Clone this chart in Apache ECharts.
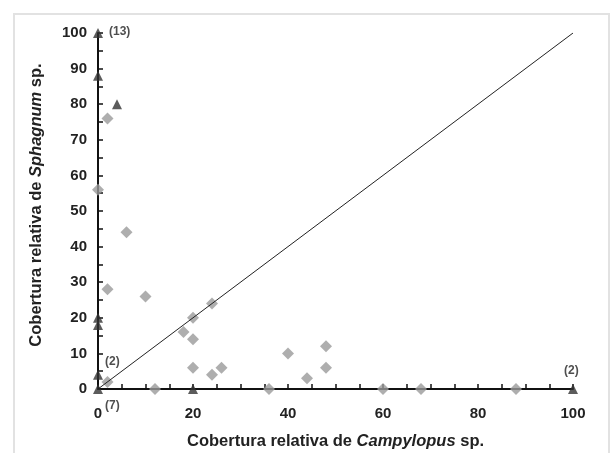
<!DOCTYPE html>
<html>
<head>
<meta charset="utf-8">
<script src="https://cdn.jsdelivr.net/npm/echarts@6/dist/echarts.min.js"></script>
<style>
  html, body { margin: 0; padding: 0; background: #fff; }
  #chart { width: 616px; height: 453px; }
</style>
</head>
<body>
<div id="chart"></div>
<script>
// triangles (dark) and diamonds (grey), [campylopus, sphagnum]
var triangles = [[0, 100], [0, 88], [4, 80], [0, 20], [0, 18], [0, 4], [0, 0], [20, 0], [100, 0]];
var diamonds = [[0, 56], [2, 76], [6, 44], [2, 28], [10, 26], [2, 2], [12, 0], [18, 16], [20, 20],
    [20, 14], [20, 6], [24, 24], [24, 4], [26, 6], [36, 0], [40, 10], [44, 3], [48, 12], [48, 6],
    [60, 0], [68, 0], [88, 0]];
var diagonal = [[0, 0], [100, 100]];
// counts of overlapping points
var notes = [[0, 100, '(13)'], [0, 4, '(2)'], [0, 0, '(7)'], [100, 0, '(2)']];
var noteOffset = [[11, -7], [7, -19], [7, 11], [-9, -24]];

var chart = echarts.init(document.querySelector('#chart'), null, { renderer: 'canvas' });
var font = 'Liberation Sans, Arial, sans-serif';

var nameRich = {
    n: { fontFamily: font, fontWeight: 'bold', fontSize: 16.5, color: '#222' },
    i: { fontFamily: font, fontWeight: 'bold', fontStyle: 'italic', fontSize: 16.5, color: '#222' }
};

var option = {
    animation: false,
    graphic: [{
        type: 'rect',
        shape: { x: 14, y: 14, width: 595, height: 460 },
        style: { fill: 'none', stroke: '#e2e2e2', lineWidth: 2 }
    }],
    grid: { left: 98, right: 43, top: 33, bottom: 64, outerBoundsMode: 'none' },
    xAxis: {
        type: 'value', min: 0, max: 100, interval: 20,
        name: '{n|Cobertura relativa de }{i|Campylopus}{n| sp.}',
        nameLocation: 'middle', nameGap: 44,
        nameTextStyle: { rich: nameRich },
        axisLine: { lineStyle: { color: '#111', width: 2 } },
        axisTick: { inside: true, length: 5, lineStyle: { color: '#111', width: 1.5 } },
        minorTick: { show: true, splitNumber: 4, length: 5, lineStyle: { color: '#111', width: 1.5 } },
        axisLabel: { fontFamily: font, fontWeight: 'bold', fontSize: 15, color: '#222', margin: 17 },
        splitLine: { show: false }
    },
    yAxis: {
        type: 'value', min: 0, max: 100, interval: 10,
        name: '{n|Cobertura relativa de }{i|Sphagnum}{n| sp.}',
        nameLocation: 'middle', nameGap: 53, nameRotate: 90,
        nameTextStyle: { rich: nameRich, padding: [0, 0, 0, 12] },
        axisLine: { lineStyle: { color: '#111', width: 2 } },
        axisTick: { inside: true, length: 5, lineStyle: { color: '#111', width: 1.5 } },
        minorTick: { show: true, splitNumber: 2, length: 5, lineStyle: { color: '#111', width: 1.5 } },
        axisLabel: { fontFamily: font, fontWeight: 'bold', fontSize: 15, color: '#222', margin: 11 },
        splitLine: { show: false }
    },
    series: [
        {
            type: 'line', data: diagonal, symbol: 'none',
            lineStyle: { color: '#222', width: 1 }
        },
        {
            type: 'scatter', data: diamonds, symbol: 'diamond', symbolSize: 12,
            itemStyle: { color: '#9a9a9a' }
        },
        {
            type: 'scatter', data: triangles, symbol: 'triangle', symbolSize: 10,
            itemStyle: { color: '#333' }
        },
        {
            type: 'scatter', symbolSize: 0, silent: true,
            data: notes.map(function (d, i) {
                return { value: [d[0], d[1]], name: d[2], label: { position: noteOffset[i] } };
            }),
            label: {
                show: true, formatter: '{b}',
                fontFamily: font, fontWeight: 'bold', fontSize: 12, color: '#222'
            }
        }
    ]
};

if (option && typeof option === 'object') {
    chart.setOption(option);
}

window.addEventListener('resize', function () {
    chart.resize();
});
</script>
</body>
</html>
